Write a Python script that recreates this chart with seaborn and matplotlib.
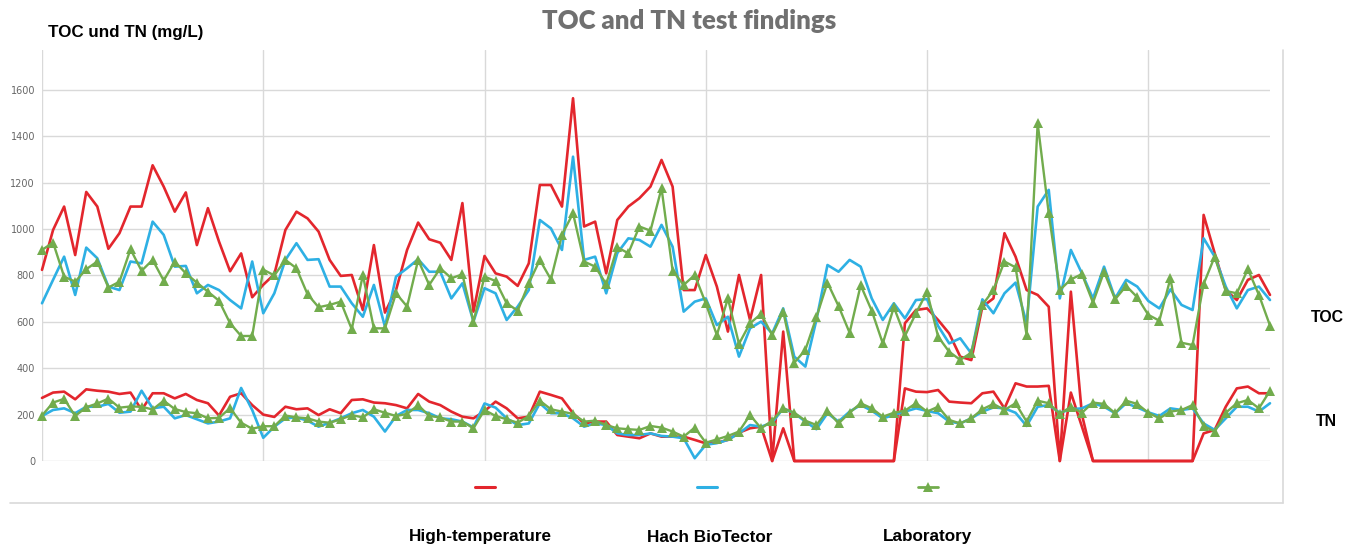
import matplotlib
matplotlib.use("Agg")
import matplotlib.pyplot as plt
from matplotlib.lines import Line2D
from matplotlib import font_manager
import numpy as np
import pandas as pd
import seaborn as sns

# ---------------- data ----------------
sample_index = list(range(112))

hightemp_toc = [824, 996, 1097, 888, 1160, 1097, 915, 982, 1097, 1097,
                1275, 1183, 1075, 1158, 931, 1090, 946, 818, 895, 706,
                760, 805, 996, 1075, 1046, 989, 867, 798, 802, 651,
                931, 640, 737, 910, 1028, 956, 941, 867, 1112, 644,
                884, 809, 795, 755, 852, 1190, 1190, 1097, 1564, 1011,
                1032, 809, 1039, 1097, 1133, 1183, 1298, 1183, 737, 737,
                888, 752, 558, 802, 608, 802, 0, 558, 0, 0,
                0, 0, 0, 0, 0, 0, 0, 0, 594, 651,
                658, 608, 550, 450, 435, 665, 701, 982, 881, 737,
                716, 665, 0, 730, 200, 0, 0, 0, 0, 0,
                0, 0, 0, 0, 0, 1061, 896, 737, 694, 781,
                802, 716]

biotector_toc = [680, 781, 881, 716, 920, 874, 752, 737, 860, 852,
                 1032, 975, 838, 841, 723, 759, 737, 694, 658, 860,
                 637, 723, 867, 939, 867, 870, 752, 752, 680, 622,
                 759, 579, 795, 831, 870, 816, 816, 701, 766, 601,
                 745, 723, 608, 666, 737, 1039, 1003, 910, 1312, 867,
                 881, 723, 896, 960, 953, 924, 1018, 924, 644, 687,
                 701, 586, 622, 450, 572, 601, 550, 658, 450, 407,
                 608, 845, 816, 867, 838, 701, 608, 680, 615, 694,
                 698, 582, 507, 529, 464, 697, 637, 723, 769, 594,
                 1097, 1169, 701, 910, 809, 701, 838, 701, 781, 752,
                 690, 658, 740, 673, 651, 960, 881, 752, 658, 737,
                 752, 694]

lab_toc = [910, 942, 795, 773, 827, 860, 748, 773, 913, 820,
           867, 778, 860, 809, 769, 730, 691, 594, 539, 539,
           825, 800, 867, 831, 719, 663, 673, 687, 568, 802,
           572, 572, 723, 666, 867, 759, 831, 788, 805, 601,
           795, 776, 680, 648, 766, 867, 783, 975, 1068, 860,
           838, 763, 921, 896, 1011, 993, 1176, 821, 759, 802,
           680, 543, 701, 505, 594, 634, 543, 644, 424, 479,
           620, 769, 668, 553, 758, 648, 507, 663, 539, 637,
           730, 536, 471, 436, 467, 673, 737, 860, 835, 543,
           1456, 1068, 737, 783, 806, 683, 816, 697, 755, 706,
           630, 605, 788, 510, 500, 763, 881, 733, 723, 827,
           716, 584]

hightemp_tn = [272, 295, 299, 266, 309, 303, 299, 289, 295, 220,
               292, 292, 270, 289, 263, 249, 196, 277, 292, 241,
               200, 190, 234, 223, 227, 198, 223, 206, 263, 266,
               252, 249, 241, 227, 289, 256, 241, 213, 191, 184,
               215, 256, 227, 184, 191, 299, 285, 270, 206, 162,
               170, 170, 112, 105, 98, 119, 105, 105, 105, 91,
               76, 79, 91, 122, 141, 148, 0, 141, 0, 0,
               0, 0, 0, 0, 0, 0, 0, 0, 313, 299,
               297, 306, 256, 252, 249, 292, 299, 227, 335, 321,
               321, 324, 0, 295, 148, 0, 0, 0, 0, 0,
               0, 0, 0, 0, 0, 119, 134, 234, 313, 321,
               292, 292]

biotector_tn = [194, 220, 227, 206, 234, 234, 246, 208, 213, 303,
                227, 234, 184, 198, 180, 162, 170, 184, 315, 220,
                100, 148, 184, 188, 174, 148, 165, 184, 206, 220,
                191, 127, 194, 220, 220, 206, 184, 180, 170, 145,
                248, 230, 184, 155, 162, 249, 206, 206, 184, 148,
                162, 155, 119, 112, 112, 119, 108, 105, 98, 12,
                70, 77, 91, 119, 155, 148, 165, 227, 206, 170,
                137, 206, 170, 213, 241, 217, 184, 198, 213, 227,
                216, 206, 170, 162, 184, 213, 231, 227, 208, 151,
                234, 241, 208, 223, 227, 249, 234, 206, 249, 231,
                210, 194, 227, 220, 227, 162, 134, 184, 234, 234,
                213, 249]

lab_tn = [196, 252, 268, 194, 232, 248, 269, 230, 235, 234,
          222, 260, 224, 211, 206, 184, 186, 228, 165, 139,
          150, 150, 196, 188, 184, 170, 165, 180, 198, 188,
          223, 208, 194, 203, 241, 194, 188, 170, 170, 141,
          220, 194, 180, 165, 194, 260, 223, 213, 203, 170,
          174, 155, 141, 137, 134, 151, 144, 127, 105, 144,
          79, 93, 108, 127, 198, 141, 174, 227, 208, 174,
          155, 217, 162, 208, 249, 227, 191, 208, 217, 249,
          213, 234, 177, 162, 184, 223, 246, 220, 249, 170,
          260, 249, 203, 234, 208, 252, 246, 206, 260, 246,
          208, 184, 213, 220, 241, 151, 127, 208, 249, 263,
          227, 303]

method_labels = ["High-temperature", "Hach BioTector", "Laboratory"]
y_ticks = [0, 200, 400, 600, 800, 1000, 1200, 1400, 1600]
title_text = "TOC and TN test findings"
y_title = "TOC und TN (mg/L)"

RED = "#e3262d"
BLUE = "#2eb0e4"
GREEN = "#72ac4d"
GRID = "#d9d9d9"

# ---------------- fonts ----------------
sns.set_style("white")
names = {f.name for f in font_manager.fontManager.ttflist}
narrow = "Liberation Sans Narrow" in names
LABEL_FONT = ["Liberation Sans Narrow", "Liberation Sans", "DejaVu Sans"] if narrow else ["Liberation Sans", "DejaVu Sans"]
scale = 1.0 if narrow else 0.82
plt.rcParams["font.family"] = ["Liberation Sans", "DejaVu Sans"]

W, H = 1359, 549
fig = plt.figure(figsize=(W / 100, H / 100), dpi=100)
fig.patch.set_facecolor("white")

ax_left, ax_right, ax_bot, ax_top = 42, 1270, 461, 50
ax = fig.add_axes([ax_left / W, (H - ax_bot) / H, (ax_right - ax_left) / W, (ax_bot - ax_top) / H])

df = pd.DataFrame({
    "idx": sample_index,
    "ht_toc": hightemp_toc, "bt_toc": biotector_toc, "lab_toc": lab_toc,
    "ht_tn": hightemp_tn, "bt_tn": biotector_tn, "lab_tn": lab_tn,
})

for col in ["ht_toc", "ht_tn"]:
    sns.lineplot(data=df, x="idx", y=col, color=RED, lw=1.9, ax=ax, zorder=3)
for col in ["bt_toc", "bt_tn"]:
    sns.lineplot(data=df, x="idx", y=col, color=BLUE, lw=1.9, ax=ax, zorder=4)
for col in ["lab_toc", "lab_tn"]:
    sns.lineplot(data=df, x="idx", y=col, color=GREEN, lw=1.7, marker="^",
                 markersize=7, markeredgewidth=0, ax=ax, zorder=5)

for ln in ax.lines:
    ln.set_clip_on(False)
    ln.set_solid_joinstyle("round")

ax.set_xlim(0, 111)
ax.set_ylim(0, 1772)
ax.set_yticks(y_ticks)
ax.set_yticklabels([str(v) for v in y_ticks], fontsize=7, color="#666666",
                   family=["DejaVu Sans"])
ax.set_xticks([0, 20, 40, 60, 80, 100])
ax.set_xticklabels([])
ax.tick_params(length=0, pad=5)
ax.grid(True, color=GRID, lw=1.0, zorder=0)
ax.set_axisbelow(True)
for s in ax.spines.values():
    s.set_visible(False)
ax.set_xlabel("")
ax.set_ylabel("")

# chart area border (right and bottom)
fig.add_artist(Line2D([10 / W, 1283 / W], [1 - 503 / H, 1 - 503 / H], color=GRID, lw=1.2, transform=fig.transFigure))
fig.add_artist(Line2D([1283 / W, 1283 / W], [1 - 50 / H, 1 - 503 / H], color=GRID, lw=1.2, transform=fig.transFigure))

# legend samples
handles = [Line2D([], [], color=RED, lw=2.2),
           Line2D([], [], color=BLUE, lw=2.2),
           Line2D([], [], color=GREEN, lw=2.0, marker="^", markersize=7, markeredgewidth=0)]
for h, cx in zip(handles, [485, 707, 928]):
    fig.legend(handles=[h], labels=[""], loc="center", bbox_to_anchor=(cx / W, 1 - 488 / H),
               frameon=False, handlelength=1.45, handletextpad=0, borderpad=0, borderaxespad=0)

# texts
fig.text(689 / W, 1 - 21 / H, title_text, ha="center", va="center", fontsize=18.5,
         fontweight="heavy", color="#707070", family=["Lato", "DejaVu Sans"])
fig.text(48 / W, 1 - 32 / H, y_title, ha="left", va="center", fontsize=14.9 * scale,
         fontweight="bold", color="black", family=LABEL_FONT)
for lab, cx in zip(method_labels, [480, 710, 928]):
    fig.text(cx / W, 1 - 537 / H, lab, ha="center", va="center", fontsize=15 * scale,
             fontweight="bold", color="black", family=LABEL_FONT)
fig.text(1327 / W, 1 - 317 / H, "TOC", ha="center", va="center", fontsize=14 * scale,
         fontweight="bold", color="black", family=LABEL_FONT)
fig.text(1326 / W, 1 - 422 / H, "TN", ha="center", va="center", fontsize=14 * scale,
         fontweight="bold", color="black", family=LABEL_FONT)

fig.savefig("out.png", dpi=100, facecolor="white")
